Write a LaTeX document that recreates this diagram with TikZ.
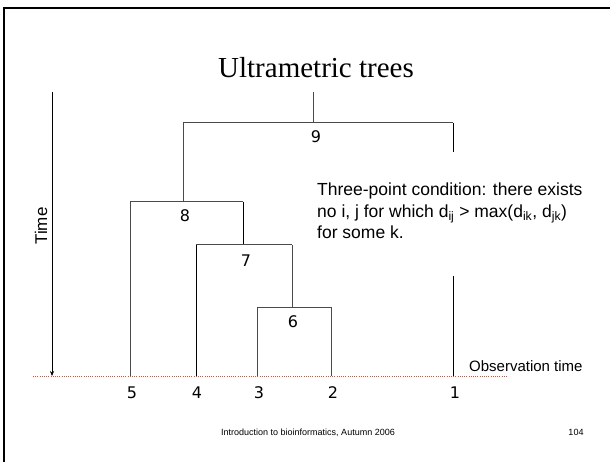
\documentclass[tikz,border=0pt]{standalone}
\usepackage{fontspec}
\setmainfont{Liberation Sans}
\newfontfamily\titlefont{Liberation Serif}
\newfontfamily\digitfont{DejaVu Sans}
\usetikzlibrary{arrows.meta}
\definecolor{treegray}{HTML}{4A4A4A}
\definecolor{obsred}{HTML}{FF4020}
\tikzset{
  branch/.style={draw=treegray, line width=1pt},
  branchdark/.style={draw=black, line width=1pt},
  numlabel/.style={anchor=base, inner sep=0pt, font=\digitfont\fontsize{16}{16}\selectfont},
  obsline/.style={draw=obsred, line width=0.9pt, dash pattern=on 1pt off 1.2pt},
}
\begin{document}
\begin{tikzpicture}[x=1pt,y=-1pt]
\useasboundingbox (0,0) rectangle (610,462);
\fill[white] (0,0) rectangle (610,462);
% slide frame
\draw[line width=2.2pt, black] (3.7,462) -- (3.7,8.2) -- (610,8.2);
% title
\node[anchor=base, inner sep=0pt, font=\titlefont\fontsize{29}{29}\selectfont] (title) at (316,78) {Ultrametric trees};
% tree coordinates
\coordinate (top) at (313,92);
\coordinate (n9) at (313,123);
\coordinate (n9l) at (183,123);
\coordinate (n9r) at (453,123);
\coordinate (n9rb) at (453,152);
\coordinate (n8) at (183,202);
\coordinate (n8l) at (130,202);
\coordinate (n8r) at (243,202);
\coordinate (n7) at (243,245);
\coordinate (n7l) at (196,245);
\coordinate (n7r) at (292,245);
\coordinate (n6) at (292,307);
\coordinate (n6l) at (257,307);
\coordinate (n6r) at (331,307);
\coordinate (leaf5) at (130,376);
\coordinate (leaf4) at (196,376);
\coordinate (leaf3) at (257,376);
\coordinate (leaf2) at (331,376);
\coordinate (leaf1top) at (453,276);
\coordinate (leaf1) at (453,376);
% branches
\draw[branch] (top) -- (n9);
\draw[branch] (n9l) -- (n9r);
\draw[branchdark] (n9r) -- (n9rb);
\draw[branch] (n9l) -- (n8);
\draw[branch] (n8l) -- (n8r);
\draw[branch] (n8l) -- (leaf5);
\draw[branchdark] (n8r) -- (n7);
\draw[branch] (n7l) -- (n7r);
\draw[branchdark] (n7l) -- (leaf4);
\draw[branch] (n7r) -- (n6);
\draw[branch] (n6l) -- (n6r);
\draw[branch] (n6l) -- (leaf3);
\draw[branch] (n6r) -- (leaf2);
\draw[branchdark] (leaf1top) -- (leaf1);
% internal labels
\node[numlabel] (l9) at (316,143) {9};
\node[numlabel] (l8) at (185,222) {8};
\node[numlabel] (l7) at (246,266) {7};
\node[numlabel] (l6) at (293,327) {6};
% observation line
\coordinate (obsL) at (33,376);
\coordinate (obsR) at (507,376);
\draw[obsline] (obsL) -- (obsR);
\node[anchor=base west, inner sep=0pt, font=\fontsize{15}{15}\selectfont] (obs) at (469,371) {Observation time};
% leaf labels
\node[numlabel] (t5) at (132,398) {5};
\node[numlabel] (t4) at (197,398) {4};
\node[numlabel] (t3) at (259,398) {3};
\node[numlabel] (t2) at (333,398) {2};
\node[numlabel] (t1) at (455,398) {1};
% time arrow
\coordinate (timeTop) at (52,92);
\coordinate (timeBot) at (52,376);
\draw[line width=0.6pt, -{Stealth[length=5pt,width=4pt]}] (timeTop) -- (timeBot);
\node[rotate=90, inner sep=0pt, font=\fontsize{17}{17}\selectfont] (time) at (41,226) {Time};
% condition text
\node[anchor=north west, inner sep=0pt, align=left, font=\fontsize{17.5}{21.5}\selectfont] (cond) at (317,183)
  {Three-point condition: there exists\\
   no i, j for which d\textsubscript{ij} > max(d\textsubscript{ik}, d\textsubscript{jk})\\
   for some k.};
% footer
\node[anchor=base, inner sep=0pt, font=\fontsize{9}{9}\selectfont] (footer) at (308,435) {Introduction to bioinformatics, Autumn 2006};
\node[anchor=base, inner sep=0pt, font=\fontsize{9}{9}\selectfont] (page) at (576,435) {104};
\end{tikzpicture}
\end{document}
